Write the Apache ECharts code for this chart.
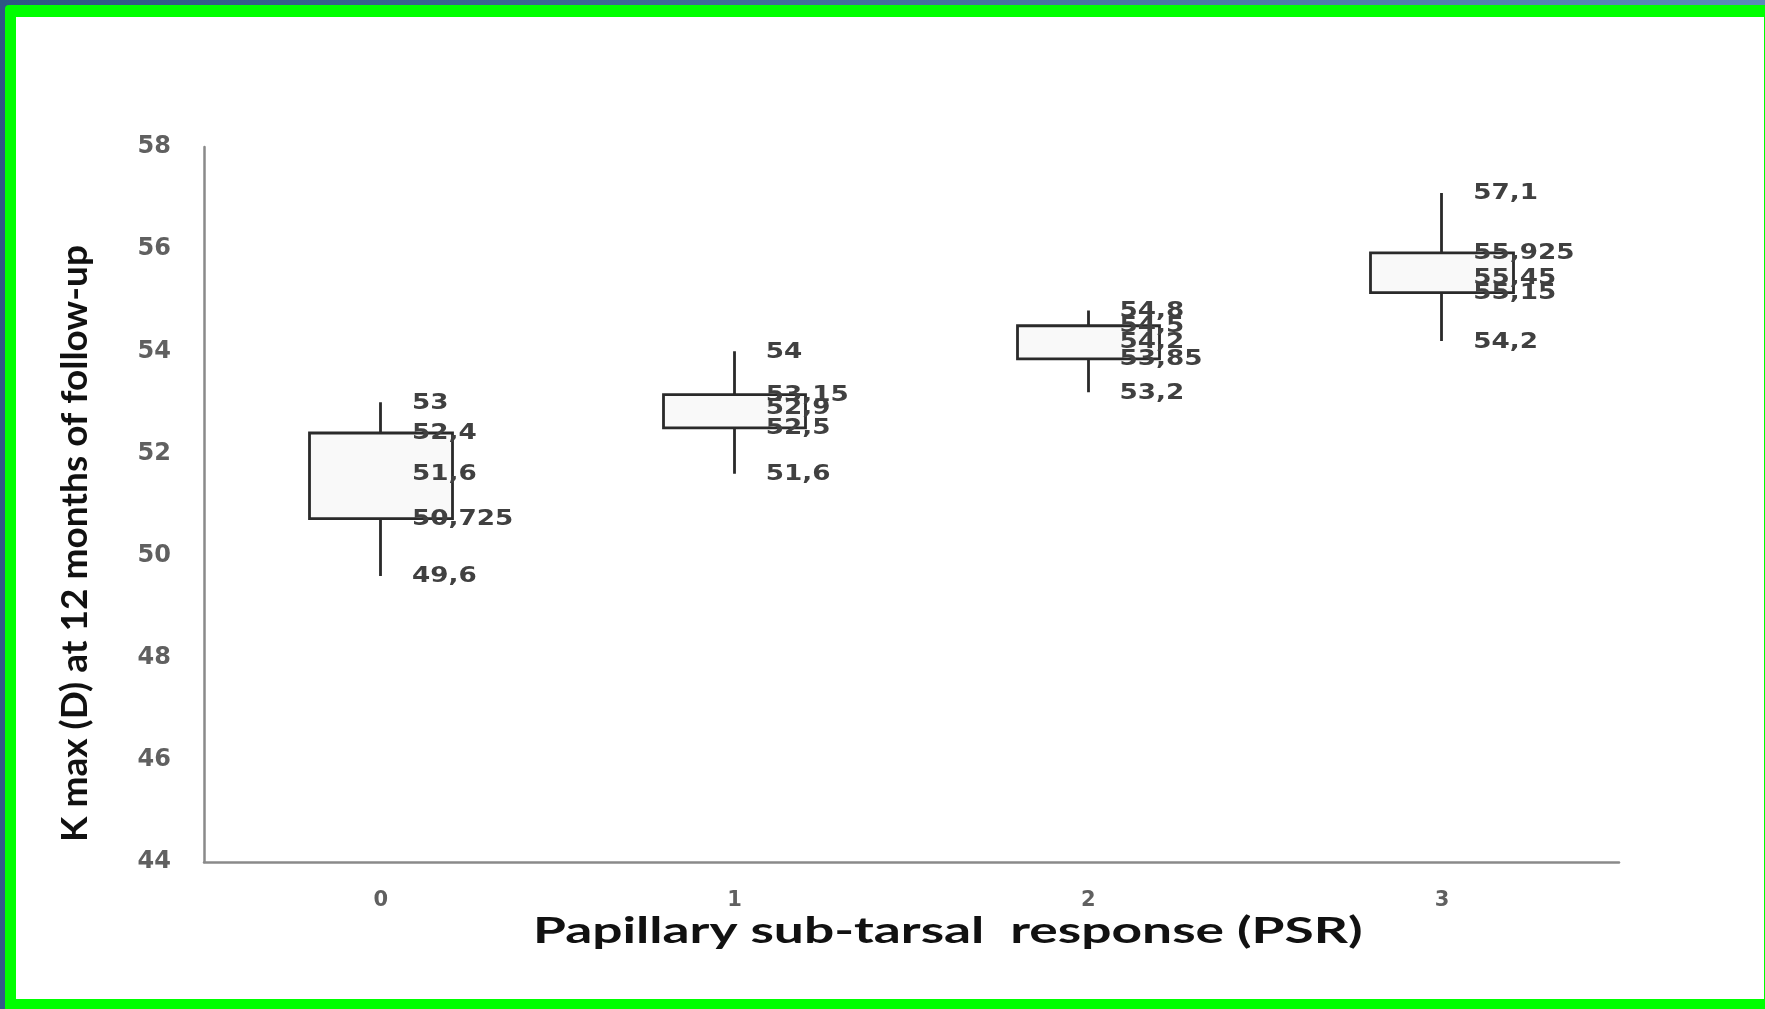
<!DOCTYPE html>
<html>
<head>
<meta charset="utf-8">
<title>K max at 12 months by PSR grade</title>
<script src="https://cdn.jsdelivr.net/npm/echarts@6/dist/echarts.min.js"></script>
<style>
  html, body { margin: 0; padding: 0; }
  body {
    width: 1765px; height: 1009px; overflow: hidden; position: relative;
    background: linear-gradient(100deg, #2e5784 0%, #4a78a4 60%, #5f8fc0 100%);
  }
  #frame {
    position: absolute; left: 5px; top: 5px; width: 1748px; height: 982px;
    background: #ffffff;
    border-style: solid; border-color: #00ff00;
    border-width: 12px 1px 10px 11px;
    border-top-left-radius: 4px;
  }
  #chart { position: absolute; left: 0; top: 0; width: 1765px; height: 1009px; }
</style>
</head>
<body>
<div id="frame"></div>
<div id="chart"></div>
<script>
// PSR grade categories
const categories = ['0', '1', '2', '3'];
// Five-number summary of K max (D) per PSR grade
const lowVals    = [49.6, 51.6, 53.2, 54.2];
const q1Vals     = [50.725, 52.5, 53.85, 55.15];
const medianVals = [51.6, 52.9, 54.2, 55.45];
const q3Vals     = [52.4, 53.15, 54.5, 55.925];
const highVals   = [53, 54, 54.8, 57.1];
// Value axis range
const yMin = 44, yMax = 58, yStep = 2;

const chart = echarts.init(document.getElementById('chart'), null, { renderer: 'canvas' });

// candlestick item: [open, close, lowest, highest]
const boxData = categories.map((c, i) => [q1Vals[i], q3Vals[i], lowVals[i], highVals[i]]);

// one text label per statistic, written with a decimal comma
const labelData = [];
categories.forEach((c, i) => {
  [highVals, q3Vals, medianVals, q1Vals, lowVals].forEach(arr => labelData.push([i, arr[i]]));
});
const fmt = v => String(v).replace('.', ',');

const option = {
  backgroundColor: 'transparent',
  animation: false,
  grid: { left: 204, right: 146, top: 147, bottom: 147, containLabel: false },
  xAxis: {
    type: 'category',
    data: categories,
    boundaryGap: true,
    axisLine: { lineStyle: { color: '#8a8a8a', width: 2.5 } },
    axisTick: { show: false },
    axisLabel: { color: '#606060', fontFamily: 'DejaVu Sans', fontWeight: 'bold', fontSize: 21, margin: 28 },
    splitLine: { show: false }
  },
  yAxis: {
    type: 'value',
    min: yMin, max: yMax, interval: yStep,
    name: 'K max (D) at 12 months of follow-up',
    nameLocation: 'middle',
    nameGap: 110,
    nameTextStyle: {
      color: '#111', fontFamily: 'Lato', fontSize: 37, fontWeight: 'bold',
      padding: [0, 78, 0, 0]
    },
    axisLine: { show: true, lineStyle: { color: '#8a8a8a', width: 2.5 } },
    axisTick: { show: false },
    axisLabel: { color: '#606060', fontFamily: 'DejaVu Sans', fontWeight: 'bold', fontSize: 24, margin: 33 },
    splitLine: { show: false }
  },
  graphic: [{
    type: 'text',
    x: 533, y: 931,
    scaleX: 1.48,
    style: {
      text: 'Papillary sub-tarsal  response (PSR)',
      fill: '#111', fontFamily: 'Lato', fontWeight: 'bold', fontSize: 36,
      verticalAlign: 'middle', align: 'left'
    }
  }],
  series: [
    {
      type: 'candlestick',
      data: boxData,
      barWidth: 143,
      itemStyle: {
        color: '#f9f9f9', color0: '#f9f9f9',
        borderColor: '#2a2a2a', borderColor0: '#2a2a2a',
        borderWidth: 2.8
      }
    },
    {
      type: 'custom',
      data: labelData,
      z: 10,
      renderItem: (params, api) => {
        const v = api.value(1);
        const p = api.coord([api.value(0), v]);
        return {
          type: 'text',
          x: p[0] + 31, y: p[1] + 1,
          scaleX: 1.25,
          style: {
            text: fmt(v), fill: '#404040',
            fontFamily: 'DejaVu Sans', fontWeight: 'bold', fontSize: 21,
            align: 'left', verticalAlign: 'middle'
          }
        };
      }
    }
  ]
};
chart.setOption(option);
</script>
</body>
</html>
